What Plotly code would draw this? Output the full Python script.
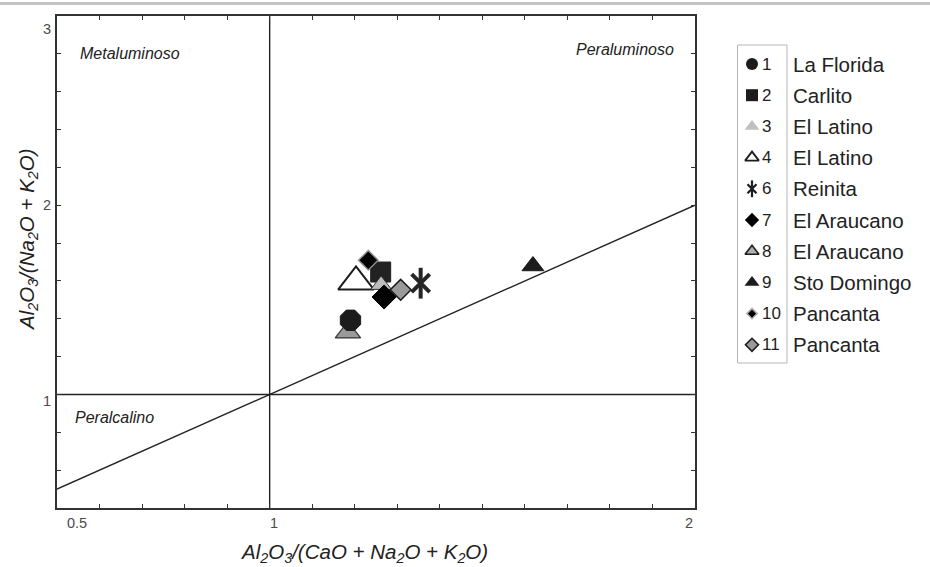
import plotly.graph_objects as go

# ---------------- data ----------------
sample_ids = ["1", "2", "3", "4", "6", "7", "8", "9", "10", "11"]
sample_names = ["La Florida", "Carlito", "El Latino", "El Latino", "Reinita",
                "El Araucano", "El Araucano", "Sto Domingo", "Pancanta", "Pancanta"]
a_cnk = [1.190, 1.261, 1.262, 1.203, 1.355, 1.269, 1.184, 1.619, 1.232, 1.308]
a_nk = [1.392, 1.647, 1.579, 1.595, 1.588, 1.515, 1.328, 1.679, 1.709, 1.553]

x_tick_vals = [round(0.5 + 0.1 * i, 1) for i in range(16)]
y_tick_vals = [round(0.4 + 0.2 * i, 1) for i in range(14)]
x_tick_labels = ["0.5", "1", "2"]
y_tick_labels = ["1", "2", "3"]

region_labels = ["Metaluminoso", "Peraluminoso", "Peralcalino"]

# ---------------- styles ----------------
W, H = 930, 567
FONT = "Liberation Sans, Arial, sans-serif"
DARK = "#1c1c1c"

styles = {
    "1": [dict(symbol="octagon", size=22, color=DARK, line=dict(color=DARK, width=1))],
    "2": [dict(symbol="square", size=20, color="#222222", line=dict(color="#222222", width=1))],
    "3": [dict(symbol="triangle-up", size=18, color="#bdbdbd", line=dict(color="#333333", width=1))],
    "4": [dict(symbol="triangle-up", size=31, color="white", line=dict(color=DARK, width=2))],
    "6": [dict(symbol="x-thin-open", size=18, color="#262626", line=dict(color="#262626", width=4)),
          dict(symbol="line-ns-open", size=22, color="#262626", line=dict(color="#262626", width=4))],
    "7": [dict(symbol="diamond", size=18.5, color="#000000", line=dict(color="#000000", width=1))],
    "8": [dict(symbol="triangle-up", size=22, color="#9a9a9a", line=dict(color="#333333", width=1.2))],
    "9": [dict(symbol="triangle-up", size=19, color=DARK, line=dict(color=DARK, width=1))],
    "10": [dict(symbol="diamond", size=15, color="#000000", line=dict(color="#8a8a8a", width=1.5))],
    "11": [dict(symbol="diamond", size=16, color="#9a9a9a", line=dict(color="#1a1a1a", width=1.5))],
}
legend_styles = {
    "1": [dict(symbol="circle", size=12, color=DARK, line=dict(width=0))],
    "2": [dict(symbol="square", size=12, color=DARK, line=dict(width=0))],
    "3": [dict(symbol="triangle-up", size=13, color="#c0c0c0", line=dict(width=0))],
    "4": [dict(symbol="triangle-up", size=12, color="white", line=dict(color=DARK, width=1.8))],
    "6": [dict(symbol="x-thin-open", size=9, color=DARK, line=dict(color=DARK, width=2.2)),
          dict(symbol="line-ns-open", size=12, color=DARK, line=dict(color=DARK, width=2.2))],
    "7": [dict(symbol="diamond", size=11, color="#000000", line=dict(width=0))],
    "8": [dict(symbol="triangle-up", size=12, color="#b0b0b0", line=dict(color=DARK, width=1.6))],
    "9": [dict(symbol="triangle-up", size=13, color=DARK, line=dict(width=0))],
    "10": [dict(symbol="diamond", size=8, color="#000000", line=dict(color="#b0b0b0", width=1.5))],
    "11": [dict(symbol="diamond", size=10, color="#9a9a9a", line=dict(color=DARK, width=1.6))],
}
draw_order = ["8", "1", "4", "2", "3", "10", "7", "11", "6", "9"]

# plot area in pixels
PL, PR, PT, PB = 57, 695, 16, 508

fig = go.Figure()

idx = {sid: i for i, sid in enumerate(sample_ids)}
for sid in draw_order:
    i = idx[sid]
    for st in styles[sid]:
        fig.add_trace(go.Scatter(
            x=[a_cnk[i]], y=[a_nk[i]], mode="markers",
            marker=dict(symbol=st["symbol"], size=st["size"], color=st["color"], line=st["line"]),
            name=f"{sid} {sample_names[i]}", showlegend=False, cliponaxis=False,
            xaxis="x", yaxis="y"))

# ---------------- custom legend ----------------
LEG_TOP, LEG_STEP, LEG_MX = 64, 31.2, 752
for k, sid in enumerate(sample_ids):
    yy = LEG_TOP + k * LEG_STEP
    for st in legend_styles[sid]:
        fig.add_trace(go.Scatter(
            x=[LEG_MX], y=[yy], mode="markers",
            marker=dict(symbol=st["symbol"], size=st["size"], color=st["color"], line=st["line"]),
            showlegend=False, xaxis="x2", yaxis="y2", hoverinfo="skip"))
    fig.add_annotation(x=760, y=yy, xref="x2", yref="y2", text=sid, showarrow=False,
                       xanchor="left", yanchor="middle",
                       font=dict(family=FONT, size=17, color="#222222"))
    fig.add_annotation(x=791, y=yy, xref="x2", yref="y2", text=sample_names[k], showarrow=False,
                       xanchor="left", yanchor="middle",
                       font=dict(family=FONT, size=20.5, color="#222222"))

shapes = []
# legend box
shapes.append(dict(type="rect", xref="paper", yref="paper",
                   x0=737.5 / W, x1=787 / W, y0=1 - 363 / H, y1=1 - 45 / H,
                   line=dict(color="#b5b5b5", width=1), fillcolor="rgba(0,0,0,0)"))
# top gray rule
shapes.append(dict(type="line", xref="paper", yref="paper", x0=0, x1=1,
                   y0=1 - 3.5 / H, y1=1 - 3.5 / H, line=dict(color="#c4c4c4", width=3)))
# boundary lines
xmin, xmax, ymin, ymax = 0.5, 2.0, 0.4, 3.0
line_style = dict(color="#222222", width=1.4)
shapes.append(dict(type="line", xref="x", yref="y", x0=1, x1=1, y0=ymin, y1=ymax, line=line_style, layer="below"))
shapes.append(dict(type="line", xref="x", yref="y", x0=xmin, x1=xmax, y0=1, y1=1, line=line_style, layer="below"))
shapes.append(dict(type="line", xref="x", yref="y", x0=xmin, x1=xmax, y0=xmin, y1=xmax, line=line_style, layer="below"))

# tick labels
tick_font = dict(family=FONT, size=14.5, color="#4a4a4a")
x_shifts = {"0.5": 20, "1": 4, "2": -6}
for lab in x_tick_labels:
    fig.add_annotation(x=float(lab), y=ymin, xref="x", yref="y", text=lab, showarrow=False,
                       xanchor="center", yanchor="middle", xshift=x_shifts[lab], yshift=-15,
                       font=tick_font)
y_shifts = {"1": -7, "2": 0, "3": -13}
for lab in y_tick_labels:
    fig.add_annotation(x=xmin, y=float(lab), xref="x", yref="y", text=lab, showarrow=False,
                       xanchor="center", yanchor="middle", xshift=-10, yshift=y_shifts[lab],
                       font=tick_font)

# region labels
reg_font = dict(family=FONT, size=16, color="#222222")
reg_pos = [(0.549, 2.804, "left"), (1.955, 2.825, "right"), (0.538, 0.877, "left")]
for lab, (px, py, anc) in zip(region_labels, reg_pos):
    fig.add_annotation(x=px, y=py, xref="x", yref="y", text=f"<i>{lab}</i>", showarrow=False,
                       xanchor=anc, yanchor="middle", font=reg_font)

# axis titles
title_font = dict(family=FONT, size=20.5, color="#222222")
fig.add_annotation(x=364 / W, y=1 - 553 / H, xref="paper", yref="paper",
                   text="<i>Al<sub>2</sub>O<sub>3</sub>/(CaO + Na<sub>2</sub>O + K<sub>2</sub>O)</i>",
                   showarrow=False, xanchor="center", yanchor="middle", font=title_font)
fig.add_annotation(x=28 / W, y=1 - 240 / H, xref="paper", yref="paper",
                   text="<i>Al<sub>2</sub>O<sub>3</sub>/(Na<sub>2</sub>O + K<sub>2</sub>O)</i>",
                   showarrow=False, xanchor="center", yanchor="middle", textangle=-90, font=title_font)

axis_common = dict(showgrid=False, zeroline=False, showline=True, linecolor="#333333", linewidth=1.6,
                   ticks="inside", ticklen=4, tickcolor="#333333", tickwidth=1.2, mirror="ticks",
                   showticklabels=False)
fig.update_layout(
    width=W, height=H, margin=dict(l=0, r=0, t=0, b=0),
    paper_bgcolor="white", plot_bgcolor="white",
    xaxis=dict(domain=[PL / W, PR / W], range=[xmin, xmax], tickvals=x_tick_vals, **axis_common),
    yaxis=dict(domain=[1 - PB / H, 1 - PT / H], range=[ymin, ymax], tickvals=y_tick_vals, **axis_common),
    xaxis2=dict(domain=[730 / W, 1], range=[730, W], visible=False, fixedrange=True),
    yaxis2=dict(domain=[0, 1], range=[H, 0], visible=False, fixedrange=True, anchor="x2"),
    shapes=shapes, showlegend=False,
    font=dict(family=FONT),
)
fig.write_html("out.html")
